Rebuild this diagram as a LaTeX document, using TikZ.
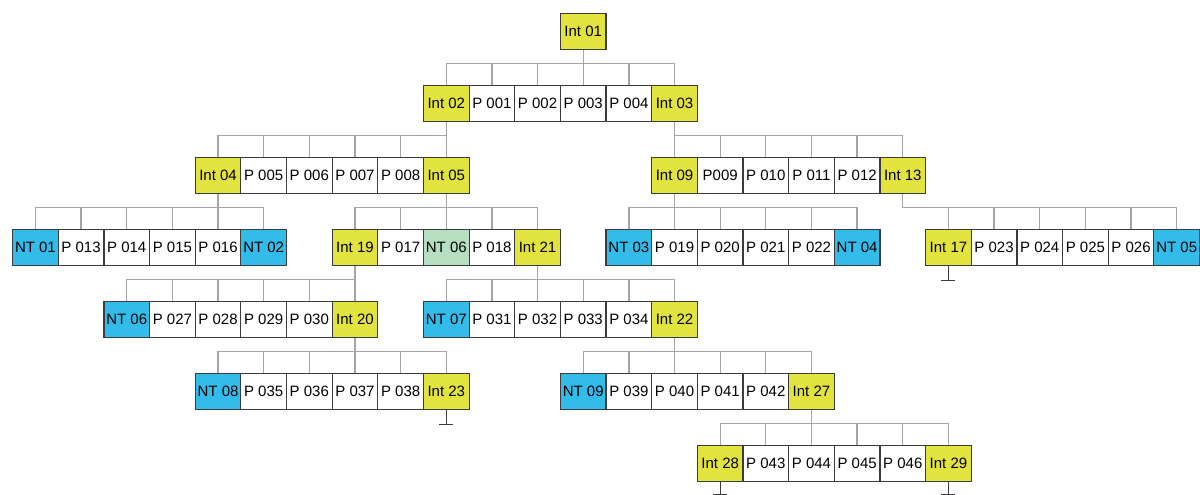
\documentclass[tikz,border=0pt]{standalone}
\usepackage{fontspec}
\setmainfont{Liberation Sans}
\definecolor{cyel}{RGB}{227,227,64}
\definecolor{cblu}{RGB}{51,187,234}
\definecolor{cgrn}{RGB}{182,222,192}
\definecolor{cbrd}{RGB}{60,60,60}
\definecolor{cconn}{RGB}{165,165,165}
\tikzset{
  cell/.style={draw=cbrd, line width=1.2pt, fill=white, anchor=north west,
    minimum width=45.65pt, minimum height=36pt, inner sep=0pt,
    font=\fontsize{15}{18}\selectfont},
  yel/.style={fill=cyel}, blu/.style={fill=cblu}, grn/.style={fill=cgrn}, wht/.style={fill=white},
  conn/.style={draw=cconn, line width=1.3pt},
  term/.style={draw=cbrd, line width=1.2pt}
}
\newcommand\grp[4]{%
  \foreach \nm/\lb/\st [count=\i from 0] in {#4} {
    \node[cell,\st] (\nm) at ({12+(#2+\i)*45.65},{13+#1*72}) {\lb};
    \draw[conn] (#3.south) |- ([yshift=21.5pt]\nm.north) -- (\nm.north);
  }}
\newcommand\termin[3]{%
  \coordinate (#1) at ([yshift=-#3pt]#2.south);
  \draw[term] (#2.south) -- (#1);
  \draw[term] ([xshift=-7pt]#1) -- ([xshift=7pt]#1);}
\begin{document}
\begin{tikzpicture}[x=1pt,y=-1pt]
\fill[white] (0,0) rectangle (1200,495);
\useasboundingbox (0,0) rectangle (1200,495);
\node[cell,yel] (i01) at ({12+12*45.65},13) {Int 01};
\grp{1}{9}{i01}{i02/Int 02/yel, p001/P 001/wht, p002/P 002/wht, p003/P 003/wht, p004/P 004/wht, i03/Int 03/yel}
\grp{2}{4}{i02}{i04/Int 04/yel, p005/P 005/wht, p006/P 006/wht, p007/P 007/wht, p008/P 008/wht, i05/Int 05/yel}
\grp{2}{14}{i03}{i09/Int 09/yel, p009/P009/wht, p010/P 010/wht, p011/P 011/wht, p012/P 012/wht, i13/Int 13/yel}
\grp{3}{0}{i04}{nt01/NT 01/blu, p013/P 013/wht, p014/P 014/wht, p015/P 015/wht, p016/P 016/wht, nt02/NT 02/blu}
\grp{3}{7}{i05}{i19/Int 19/yel, p017/P 017/wht, nt06a/NT 06/grn, p018/P 018/wht, i21/Int 21/yel}
\grp{3}{13}{i09}{nt03/NT 03/blu, p019/P 019/wht, p020/P 020/wht, p021/P 021/wht, p022/P 022/wht, nt04/NT 04/blu}
\grp{3}{20}{i13}{i17/Int 17/yel, p023/P 023/wht, p024/P 024/wht, p025/P 025/wht, p026/P 026/wht, nt05/NT 05/blu}
\grp{4}{2}{i19}{nt06b/NT 06/blu, p027/P 027/wht, p028/P 028/wht, p029/P 029/wht, p030/P 030/wht, i20/Int 20/yel}
\grp{4}{9}{i21}{nt07/NT 07/blu, p031/P 031/wht, p032/P 032/wht, p033/P 033/wht, p034/P 034/wht, i22/Int 22/yel}
\grp{5}{4}{i20}{nt08/NT 08/blu, p035/P 035/wht, p036/P 036/wht, p037/P 037/wht, p038/P 038/wht, i23/Int 23/yel}
\grp{5}{12}{i22}{nt09/NT 09/blu, p039/P 039/wht, p040/P 040/wht, p041/P 041/wht, p042/P 042/wht, i27/Int 27/yel}
\grp{6}{15}{i27}{i28/Int 28/yel, p043/P 043/wht, p044/P 044/wht, p045/P 045/wht, p046/P 046/wht, i29/Int 29/yel}
\termin{t17}{i17}{14}
\termin{t23}{i23}{14}
\termin{t28}{i28}{12}
\termin{t29}{i29}{12}
\end{tikzpicture}
\end{document}
